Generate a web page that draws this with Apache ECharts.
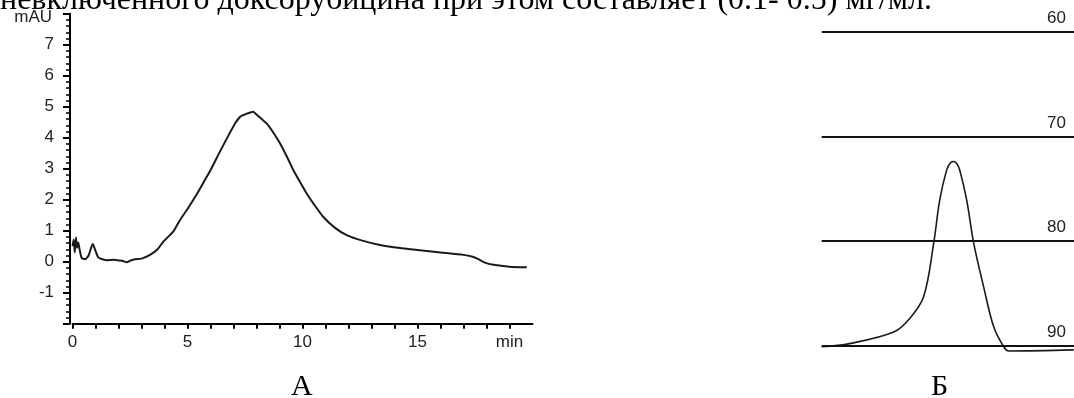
<!DOCTYPE html>
<html><head><meta charset="utf-8">
<script src="https://cdn.jsdelivr.net/npm/echarts@6/dist/echarts.min.js"></script>
<style>html,body{margin:0;padding:0;background:#fff}#c{width:1074px;height:398px}</style>
</head><body><div id="c"></div>
<script>
// Panel A: chromatogram (time, min; absorbance, mAU)
const timeA = [0,0.05,0.1,0.15,0.2,0.25,0.3,0.4,0.55,0.7,0.88,1.0,1.12,1.3,1.5,1.8,2.0,2.2,2.36,2.5,2.72,3.0,3.37,3.7,3.95,4.38,4.67,5.0,5.5,5.76,6.0,6.41,6.8,7.07,7.3,7.6,7.86,7.95,8.2,8.44,8.7,9.02,9.3,9.6,9.9,10.18,10.5,10.9,11.4,11.92,12.6,13.37,14.24,15.0,16.0,17.0,17.4,17.6,17.93,18.3,19.0,19.75];
const valA  = [0.5,0.72,0.3,0.78,0.45,0.62,0.43,0.12,0.08,0.2,0.57,0.35,0.14,0.08,0.05,0.06,0.04,0.02,-0.02,0.03,0.08,0.1,0.22,0.4,0.65,0.97,1.34,1.7,2.3,2.64,2.95,3.55,4.1,4.46,4.68,4.78,4.84,4.78,4.62,4.46,4.2,3.82,3.42,2.96,2.56,2.2,1.85,1.45,1.1,0.86,0.68,0.54,0.44,0.38,0.3,0.22,0.16,0.1,-0.03,-0.1,-0.16,-0.18];
const xTickLabelsA = {0:'0',5:'5',10:'10',15:'15',19:'min'};
const yUnitA = 'mAU';
// Panel B: peak against levels
const posB = [0,28,72,88,102,112,118,125,129,132,135,138,145,152,162,172,182,187,252];
const valB = [90.1,89.8,88.7,87.4,85.3,80.2,76.1,73.2,72.5,72.4,72.6,73.2,76.1,80.2,84.4,88.2,90.1,90.5,90.4];
const levelsB = [60,70,80,90];
const captionTop = 'невключенного доксорубицина при этом составляет (0.1- 0.5) мг/мл.';
const panelLabels = ['А','Б'];

const SANS = '"Liberation Sans", Arial, sans-serif';
const SERIF = '"Liberation Serif", "Times New Roman", serif';
const ink = '#1a1a1a';

const chart = echarts.init(document.getElementById('c'), null, {renderer:'canvas'});
chart.setOption({
  animation:false,
  backgroundColor:'#fff',
  grid:[
    {left:72.5, top:13.7, width:460, height:310},
    {left:821.7, top:31.7, right:0, height:314}
  ],
  xAxis:[
    {gridIndex:0, type:'value', min:0, max:20, interval:1,
     axisLine:{show:true, onZero:false, lineStyle:{color:'#000', width:2}},
     axisTick:{show:true, length:5, lineStyle:{color:'#000', width:2}},
     axisLabel:{show:true, margin:10, color:'#222', fontFamily:SANS, fontSize:17,
       formatter:v=> (xTickLabelsA[v]!==undefined ? xTickLabelsA[v] : ''), showMaxLabel:false},
     splitLine:{show:false}},
    {gridIndex:1, type:'value', min:0, max:252.3, show:false}
  ],
  yAxis:[
    {gridIndex:0, type:'value', min:-2, max:8, interval:1, offset:2.5,
     axisLine:{show:true, onZero:false, lineStyle:{color:'#000', width:2}},
     axisTick:{show:true, length:7, lineStyle:{color:'#000', width:2}},
     minorTick:{show:true, splitNumber:5, length:4, lineStyle:{color:'#000', width:1.5}},
     axisLabel:{show:true, margin:16, color:'#222', fontFamily:SANS, fontSize:17,
       formatter:v=> (v<=-2||v>=8 ? '' : String(v))},
     splitLine:{show:false}},
    {gridIndex:1, type:'value', inverse:true, min:60, max:90, show:false}
  ],
  series:[
    {type:'line', xAxisIndex:0, yAxisIndex:0, data:timeA.map((t,i)=>[t,valA[i]]),
     showSymbol:false, smooth:0.2, lineStyle:{color:ink, width:2}},
    {type:'line', xAxisIndex:1, yAxisIndex:1, data:posB.map((p,i)=>[p,valB[i]]),
     showSymbol:false, smooth:0.35, clip:false, lineStyle:{color:ink, width:1.6},
     markLine:{silent:true, symbol:'none', animation:false,
       lineStyle:{color:'#111', width:2, type:'solid'},
       label:{show:true, position:'insideEndTop', distance:[8,5], color:'#222', fontFamily:SANS, fontSize:17,
         formatter:p=>String(p.value)},
       data:levelsB.map(v=>({yAxis:v}))}}
  ],
  graphic:[
    {type:'text', left:0, top:-15, style:{text:captionTop, fill:'#000', font:'32px '+SERIF}},
    {type:'text', right:1074-52, top:9, style:{text:yUnitA, fill:'#222', font:'17px '+SANS}},
    {type:'text', left:291, top:372, style:{text:panelLabels[0], fill:'#000', font:'30px '+SERIF}},
    {type:'text', left:931, top:372, style:{text:panelLabels[1], fill:'#000', font:'30px '+SERIF}}
  ]
});
</script></body></html>
